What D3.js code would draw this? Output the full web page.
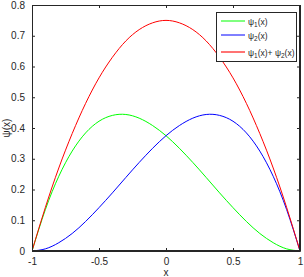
<!DOCTYPE html>
<html><head><meta charset="utf-8">
<script src="https://cdn.jsdelivr.net/npm/d3@7"></script>
<style>body{margin:0;background:#fff}svg{display:block}text{font-family:"Liberation Sans",Arial,sans-serif}</style>
</head><body><svg id="c" width="304" height="277"></svg>
<script>
const xs = [-1,-0.9,-0.8,-0.7,-0.6,-0.5,-0.4,-0.3,-0.2,-0.1,0,0.1,0.2,0.3,0.4,0.5,0.6,0.7,0.8,0.9,1];
const psi1 = [0,0.135,0.243,0.325,0.384,0.422,0.441,0.444,0.432,0.408,0.375,0.334,0.288,0.239,0.189,0.141,0.096,0.057,0.027,0.007,0];
const psi2 = [0,0.007,0.027,0.057,0.096,0.141,0.189,0.239,0.288,0.334,0.375,0.408,0.432,0.444,0.441,0.422,0.384,0.325,0.243,0.135,0];
const psiSum = [0,0.142,0.270,0.382,0.480,0.563,0.630,0.683,0.720,0.742,0.750,0.742,0.720,0.683,0.630,0.563,0.480,0.382,0.270,0.142,0];
const xTicks = [-1,-0.5,0,0.5,1];
const xTickLabels = ["-1","-0.5","0","0.5","1"];
const yTicks = [0,0.1,0.2,0.3,0.4,0.5,0.6,0.7,0.8];
const yTickLabels = ["0","0.1","0.2","0.3","0.4","0.5","0.6","0.7","0.8"];
const seriesNames = [["ψ","1","(x)"],["ψ","2","(x)"],["ψ","1","(x)+ ψ","2","(x)"]];
const colors = ["#00ff00","#0000ff","#ff0000"];

const svg = d3.select("#c");
const L=32,R=300,T=5,B=251;
const x = d3.scaleLinear().domain([-1,1]).range([L,R]);
const y = d3.scaleLinear().domain([0,0.8]).range([B,T]);
const ac = "#262626";

svg.append("defs").append("clipPath").attr("id","cp").append("rect").attr("x",L).attr("y",T).attr("width",R-L).attr("height",B-T);

const series=[psi1,psi2,psiSum];
const line = d3.line().x((d,i)=>x(xs[i])).y(d=>y(d)).curve(d3.curveNatural);
series.forEach((s,k)=>{
  svg.append("path").attr("d",line(s)).attr("fill","none").attr("stroke",colors[k]).attr("stroke-width",1).attr("clip-path","url(#cp)");
});

const fs=10;
const bx = svg.append("g").attr("transform",`translate(0,${B})`).call(d3.axisBottom(x).tickValues(xTicks).tickFormat((d,i)=>xTickLabels[i]).tickSizeInner(-3).tickSizeOuter(0).tickPadding(7));
const tx = svg.append("g").attr("transform",`translate(0,${T})`).call(d3.axisTop(x).tickValues(xTicks).tickFormat("").tickSizeInner(-3).tickSizeOuter(0));
const ly = svg.append("g").attr("transform",`translate(${L},0)`).call(d3.axisLeft(y).tickValues(yTicks).tickFormat((d,i)=>yTickLabels[i]).tickSizeInner(-3).tickSizeOuter(0).tickPadding(7));
const ry = svg.append("g").attr("transform",`translate(${R},0)`).call(d3.axisRight(y).tickValues(yTicks).tickFormat("").tickSizeInner(-3).tickSizeOuter(0));
[bx,tx,ly,ry].forEach(g=>{
  g.selectAll(".domain").attr("stroke",ac);
  g.selectAll(".tick line").attr("stroke",ac);
  g.selectAll("text").attr("fill",ac).attr("font-size",fs).attr("font-family","Liberation Sans, Arial, sans-serif");
});
svg.append("rect").attr("x",L+0.5).attr("y",T+0.5).attr("width",R-L-1).attr("height",B-T-1).attr("fill","none").attr("stroke",ac).attr("stroke-width",1);

svg.append("text").attr("x",(L+R)/2).attr("y",276).attr("text-anchor","middle").attr("font-size",fs).attr("fill",ac).text("x");
svg.append("text").attr("transform",`translate(10,128) rotate(-90)`).attr("text-anchor","middle").attr("font-size",fs).attr("fill",ac).text("ψ(x)");

const lg = svg.append("g");
lg.append("rect").attr("x",216.5).attr("y",12.5).attr("width",80).attr("height",49).attr("fill","#fff").attr("stroke",ac);
const rows=[21,35,52];
seriesNames.forEach((parts,k)=>{
  lg.append("line").attr("x1",221).attr("x2",245).attr("y1",rows[k]).attr("y2",rows[k]).attr("stroke",colors[k]).attr("stroke-width",k===2?2:1).attr("stroke-opacity",k===2?0.55:1);
  const t = lg.append("text").attr("x",248).attr("y",rows[k]+3.5).attr("font-size",9).attr("fill",ac);
  parts.forEach((p,j)=>{
    const sub = (j%2===1);
    t.append("tspan").text(p).attr("font-size",sub?6.5:8.5).attr("dy",sub?2:(j>0?-2:0));
  });
});
</script></body></html>
